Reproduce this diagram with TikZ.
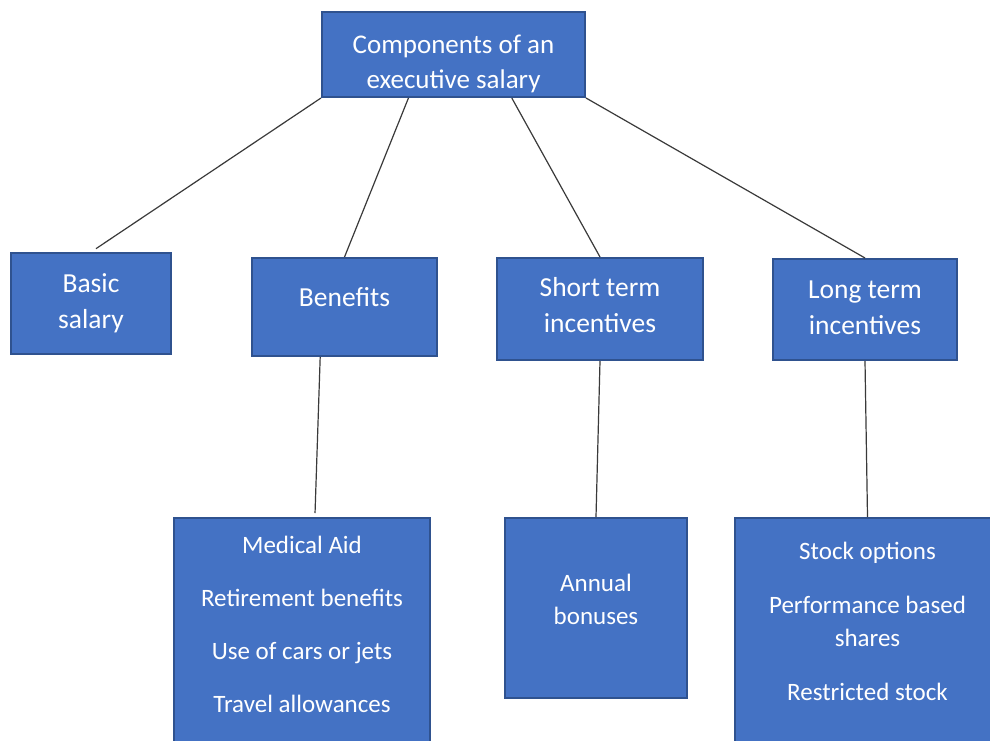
\documentclass[tikz,border=0pt]{standalone}
\usepackage{fontspec}
\setmainfont{Carlito}
\usetikzlibrary{calc}
\definecolor{boxfill}{HTML}{4472C4}
\definecolor{boxline}{HTML}{2F528F}
\definecolor{linkgray}{HTML}{3A3A3A}
\begin{document}
\begin{tikzpicture}[x=0.5pt, y=-0.5pt,
		box/.style={draw=boxline, line width=1pt, fill=boxfill, text=white, align=center, inner sep=2pt,
			font=\fontsize{12.5}{16.5}\selectfont},
		headbox/.style={box, font=\fontsize{13.5}{17.5}\selectfont},
		midbox/.style={box, font=\fontsize{13.75}{18}\selectfont},
		listbox/.style={box, anchor=north, inner ysep=9pt},
		link/.style={draw=linkgray, line width=0.6pt}]
	\clip (0,0) rectangle (990,740);
	\fill[white] (0,0) rectangle (990,740);
	% top of the tree
	\node[headbox, minimum width=131.5pt, minimum height=42.5pt, text height=36pt, text depth=2.5pt] (comp) at (453.5,54.5) {Components of an\\executive salary};
	% second row
	\node[midbox, minimum width=80pt, minimum height=50.5pt] (basic) at (91,303.5) {Basic\\salary};
	\node[midbox, minimum width=92.5pt, minimum height=49pt, text depth=10pt] (benefits) at (344.5,307) {Benefits};
	\node[midbox, minimum width=103pt, minimum height=51pt, text depth=4pt] (short) at (600,309) {Short term\\incentives};
	\node[midbox, minimum width=92pt, minimum height=50.5pt, text depth=2pt] (long) at (865,309.5) {Long term\\incentives};
	% third row
	\node[listbox, minimum width=128pt] (medical) at (302,517) {Medical Aid\\[10pt]Retirement benefits\\[10pt]Use of cars or jets\\[10pt]Travel allowances\\[30pt]\mbox{}};
	\node[box, minimum width=91pt, minimum height=90pt, text depth=9pt] (annual) at (596,608) {Annual\\bonuses};
	\node[listbox, minimum width=132.5pt, inner ysep=12pt] (stock) at (867.5,517) {Stock options\\[10.5pt]Performance based\\shares\\[10.5pt]Restricted stock\\[30pt]\mbox{}\\\mbox{}};
	% connectors
	\draw[link, shorten >=3pt] (comp.south west) -- (basic.north);
	\draw[link] ($(comp.south west)!0.33!(comp.south east)$) -- (benefits.north);
	\draw[link] ($(comp.south west)!0.72!(comp.south east)$) -- (short.north);
	\draw[link] (comp.south east) -- (long.north);
	\draw[link, shorten >=2pt] ($(benefits.south west)!0.37!(benefits.south east)$) -- ($(medical.north west)!0.55!(medical.north east)$);
	\draw[link] (short.south) -- (annual.north);
	\draw[link] (long.south) -- (stock.north);
\end{tikzpicture}
\end{document}
